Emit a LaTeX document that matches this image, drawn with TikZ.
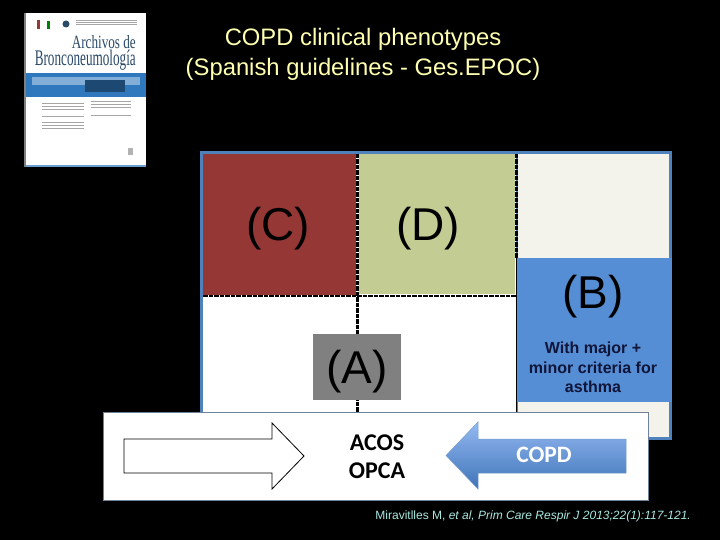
\documentclass[tikz,border=0pt]{standalone}
\usepackage{fontspec}
\setmainfont{Liberation Sans}
\newfontfamily\carl{Carlito}
\newfontfamily\serifcover{Liberation Serif}
\usetikzlibrary{shadings}
\definecolor{frameblue}{HTML}{4F81BD}
\definecolor{cream}{HTML}{F3F3EC}
\definecolor{cellc}{HTML}{953735}
\definecolor{celld}{HTML}{C3CC92}
\definecolor{cellb}{HTML}{558ED5}
\definecolor{titleyellow}{HTML}{FFFFB0}
\definecolor{citecyan}{HTML}{A8E8E0}
\definecolor{navytext}{HTML}{10153A}
\definecolor{panelline}{HTML}{6F8299}
\definecolor{coverblue}{HTML}{2F78BE}
\definecolor{covertext}{HTML}{2A4A68}
\tikzset{
  px/.style={x=1pt,y=-1pt},
  cell/.style={inner sep=0pt,text=black,font=\fontsize{46}{50}\selectfont},
  divider/.style={draw=black,line width=2.4pt,dash pattern=on 4.5pt off 1pt},
  title/.style={text=titleyellow,align=center,font=\fontsize{23.8}{30}\selectfont},
  coverline/.style={draw=gray!70,line width=.7pt},
  covertitle/.style={inner sep=0pt,anchor=east,text=covertext,font=\serifcover\fontsize{14.5}{16}\selectfont},
}
\definecolor{arrowtop}{HTML}{94B9F2}
\definecolor{arrowbot}{HTML}{3F74B8}
\begin{document}
\begin{tikzpicture}[px]
\useasboundingbox (0,0) rectangle (720,540);
\fill[black] (0,0) rectangle (720,540);
% journal cover
\fill[white] (24,13) rectangle (146,167);
\fill[gray] (24,13) rectangle (26,167);
\fill[coverblue] (26,73) rectangle (146,97);
\fill[coverblue!60!white] (32,77) rectangle (140,85);
\fill[coverblue!60!black] (85,80) rectangle (125,92);
\fill[coverblue!70!white] (26,165) rectangle (146,167);
\fill[cellc] (37,20) rectangle (40,29);
\fill[green!50!black] (47,21) rectangle (50,29);
\fill[covertext] (66,24) circle (3.5);
\foreach \yy in {20,22,24}{\draw[coverline] (76,\yy) -- (137,\yy);}
\foreach \yy in {103,106,109,116,122,125,128}{\draw[coverline] (42,\yy) -- (84,\yy);}
\foreach \yy in {101,104,107,115}{\draw[coverline] (91,\yy) -- (131,\yy);}
\fill[gray!60] (128,148) rectangle (133,155);
\node[covertitle] (covera) at (136,42) {\resizebox{64pt}{13pt}{Archivos de}};
\node[covertitle] (coverb) at (136,60.5) {\resizebox{101pt}{15.5pt}{Bronconeumología}};
% title
\node[title,inner sep=0pt] (heading) at (363,54) {COPD clinical phenotypes\\(Spanish guidelines - Ges.EPOC)};
% matrix
\fill[frameblue] (200,151) rectangle (672,440);
\fill[white] (203,154) rectangle (516,412);
\fill[cream] (518,154) rectangle (669,437);
\fill[cellc] (203,154) rectangle (356,295);
\fill[celld] (359,154) rectangle (515,294);
\fill[cellb] (516,258) rectangle (672,402);
\draw[divider] (203,296) -- (516,296);
\draw[divider] (357.5,154) -- (357.5,412);
\draw[divider] (516.5,154) -- (516.5,258);
\draw[black,line width=1pt] (516,258) -- (516,412);
\draw[frameblue,line width=2pt] (358,152) -- (516,152);
\node[cell] (c) at (278,229) {(C)};
\node[cell] (d) at (428,229) {(D)};
\node[cell] (b) at (593,297) {(B)};
\node[cell,fill=gray,minimum width=88pt,minimum height=66pt,text height=38pt,text depth=5pt] (a) at (357,367) {(A)};
\node[inner sep=0pt,align=center,text=navytext,font=\bfseries\fontsize{16}{19.6}\selectfont] (crit) at (593,367.5) {With major +\\minor criteria for\\asthma};
% bottom panel
\draw[panelline,fill=white,line width=1pt] (103,412) rectangle (648,500);
\draw[black,fill=white,line width=.8pt] (124,439) -- (272,439) -- (272,423) -- (304,456) -- (272,489) -- (272,473) -- (124,473) -- cycle;
\path[top color=arrowtop,bottom color=arrowbot,draw=arrowbot!70!white,line width=.5pt] (446,455.5) -- (478,422) -- (478,439) -- (626,439) -- (626,473) -- (478,473) -- (478,489) -- cycle;
\node[inner sep=0pt,align=center,text=black,font=\carl\bfseries\fontsize{24}{28}\selectfont] (acos) at (377,457) {ACOS\\OPCA};
\node[inner sep=0pt,text=white,font=\carl\bfseries\fontsize{23.5}{26}\selectfont] (copd) at (544,455) {COPD};
% citation
\node[inner sep=0pt,anchor=east,text=citecyan,font=\fontsize{12}{14}\selectfont] (cite) at (691,516) {Miravitlles M, \textit{et al, Prim Care Respir J} \textit{2013;22(1):117-121.}};
\end{tikzpicture}
\end{document}
